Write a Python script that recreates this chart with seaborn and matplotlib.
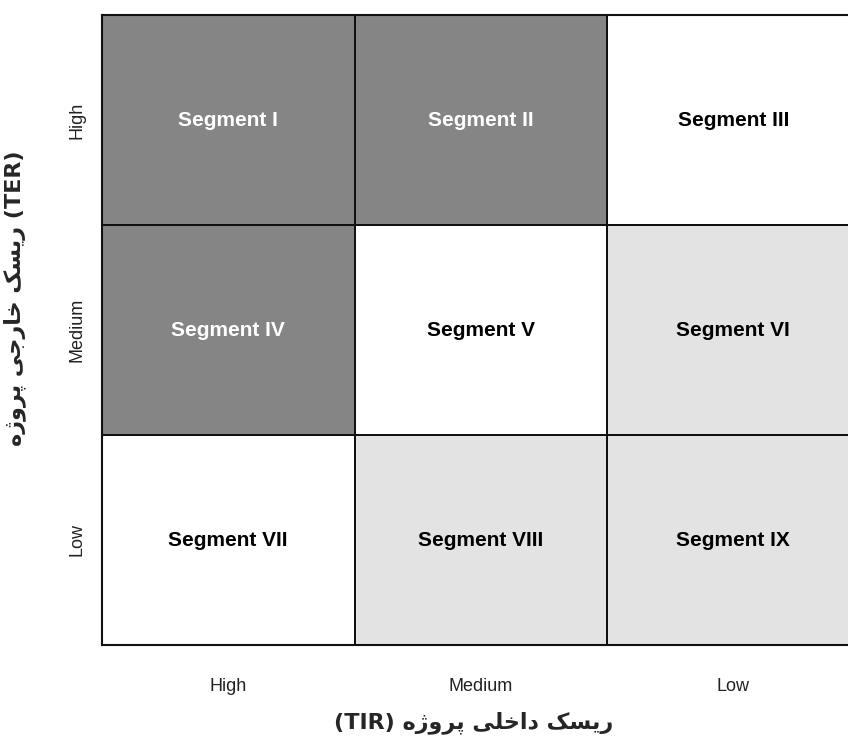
import numpy as np
import pandas as pd
import seaborn as sns
import matplotlib.pyplot as plt
from matplotlib.colors import ListedColormap

# grid categories
tir_levels = ["High", "Medium", "Low"]   # internal risk (columns)
ter_levels = ["High", "Medium", "Low"]   # external risk (rows, top to bottom)

# shading class of each cell: 2 = dark, 1 = white, 0 = light
risk_class = [[2, 2, 1],
              [2, 1, 0],
              [1, 0, 0]]

segments = [["Segment I", "Segment II", "Segment III"],
            ["Segment IV", "Segment V", "Segment VI"],
            ["Segment VII", "Segment VIII", "Segment IX"]]

# Persian labels, written in shaped presentation forms in visual (left-to-right) order
w_risk = "\uFB8F\uFEB4\uFBFE\uFEAD"            # ریسک
w_internal = "\uFBFD\uFEE0\uFEA7\uFE8D\uFEA9"  # داخلی
w_external = "\uFBFD\uFE9F\uFEAD\uFE8E\uFEA7"  # خارجی
w_project = "\uFEE9\uFB8A\uFEED\uFEAE\uFB58"   # پروژه
x_title = "(TIR) " + " ".join([w_project, w_internal, w_risk])
y_title = " ".join([w_project, w_external, w_risk]) + " (TER)"

df = pd.DataFrame(risk_class, index=ter_levels, columns=tir_levels)

sns.set_style("white")
plt.rcParams['font.family'] = ['Liberation Sans', 'DejaVu Sans']

fig = plt.figure(figsize=(8.48, 7.4), dpi=100)
ax = fig.add_axes([102 / 848, 95 / 740, 757.5 / 848, 630 / 740])

cmap = ListedColormap(["#e3e3e3", "#ffffff", "#858585"])
sns.heatmap(df, ax=ax, cmap=cmap, vmin=-0.5, vmax=2.5, cbar=False,
            annot=np.array(segments), fmt="", linewidths=1.1, linecolor="#111111",
            annot_kws=dict(fontsize=15, fontweight="bold"))

# pure black / white cell labels
for t, c in zip(ax.texts, np.array(risk_class).ravel()):
    t.set_color("white" if c == 2 else "black")

for s in ax.spines.values():
    s.set_visible(True)
    s.set_color("#111111")
    s.set_linewidth(1.5)

ax.tick_params(axis="both", length=0, labelsize=13, colors="#222222")
ax.tick_params(axis="x", pad=24)
ax.tick_params(axis="y", pad=12)
ax.set_yticklabels(ter_levels, rotation=90, va="center")
ax.set_xticklabels(tir_levels, rotation=0)

ax.set_xlabel(x_title, fontsize=16, fontweight="bold", family=["DejaVu Sans"])
ax.set_ylabel(y_title, fontsize=16, fontweight="bold", family=["DejaVu Sans"])
ax.xaxis.set_label_coords(0.49, -0.105)
ax.yaxis.set_label_coords(-0.1, 0.55)

fig.savefig("out.png", dpi=100)
